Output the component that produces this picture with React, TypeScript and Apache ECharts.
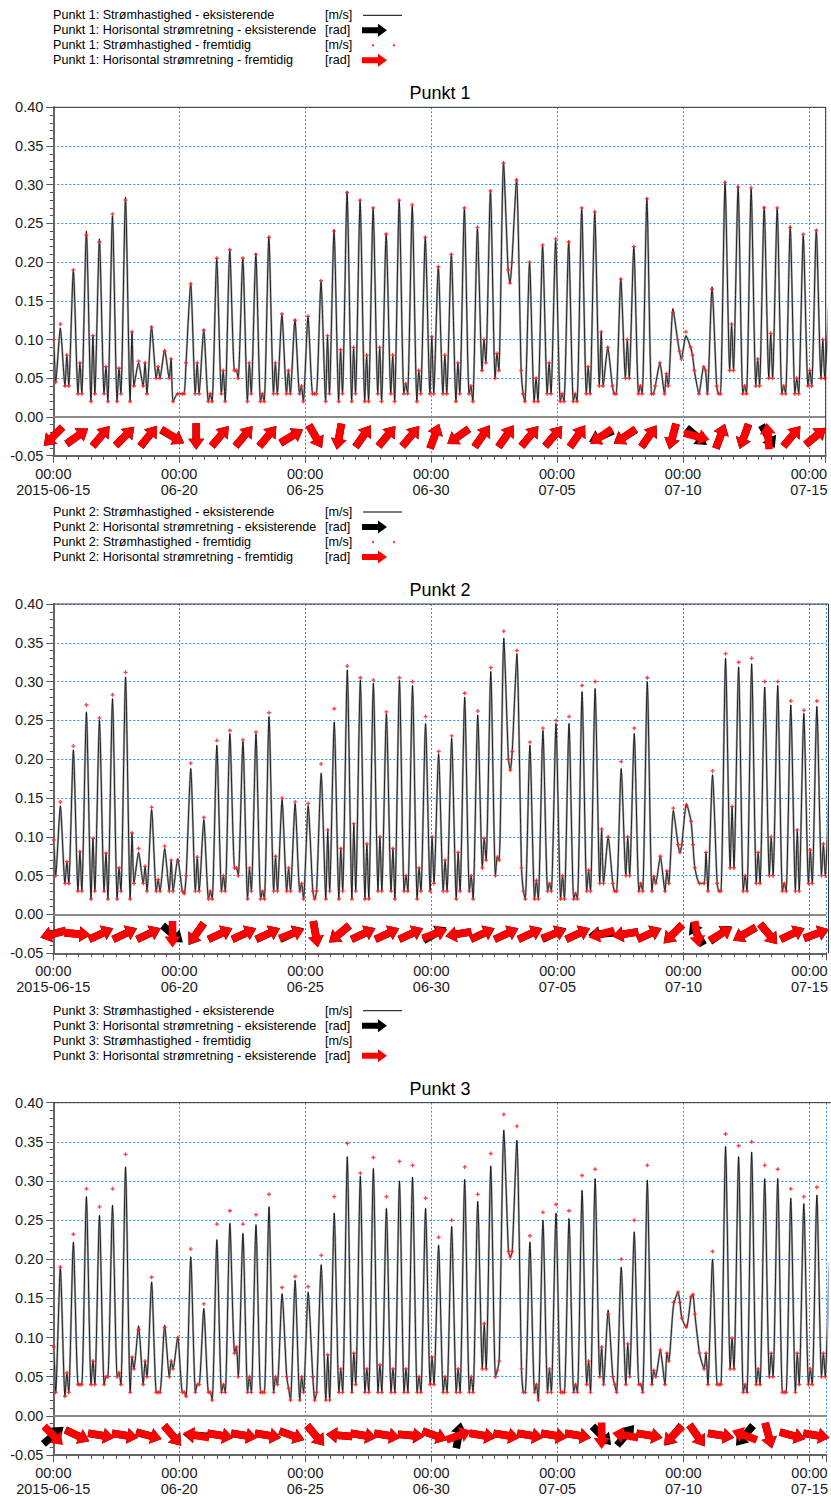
import React, { useEffect, useRef } from 'react';
import * as echarts from 'echarts';

const FONT = '"Liberation Sans", Arial, sans-serif';

// ---------- time base (hours from 2015-06-15 00:00) ----------
const START_DATE_UTC = Date.UTC(2015, 5, 15);
const X_MAX_H = 736;
const X_TICK_H = 120;
const CYCLE_H = 12.42;
const FIRST_PEAK_H = 6.7;
const SLOT_OFFSETS_H = [-6.21, -4.4, 0, 4.4]; // minor, troughA, major, troughB
const ARROW_STEP_H = 22.7;
const ARROW_LEVEL = -0.025;

const TITLES = ['Punkt 1', 'Punkt 2', 'Punkt 3'];
const LEGEND_LABELS = [
  ['Punkt 1: Strømhastighed - eksisterende', 'Punkt 1: Horisontal strømretning - eksisterende', 'Punkt 1: Strømhastighed - fremtidig', 'Punkt 1: Horisontal strømretning - fremtidig'],
  ['Punkt 2: Strømhastighed - eksisterende', 'Punkt 2: Horisontal strømretning - eksisterende', 'Punkt 2: Strømhastighed - fremtidig', 'Punkt 2: Horisontal strømretning - fremtidig'],
  ['Punkt 3: Strømhastighed - eksisterende', 'Punkt 3: Horisontal strømretning - eksisterende', 'Punkt 3: Strømhastighed - fremtidig', 'Punkt 3: Horisontal strømretning - eksisterende'],
];
const LEGEND_UNITS = ['[m/s]', '[rad]', '[m/s]', '[rad]'];

// ---------- Punkt 1 ----------
const P1_MAJOR = [0.115,0.19,0.24,0.23,0.26,0.284,0.07,0.117,0.087,0.03, 0.173,0.113,0.205,0.216,0.205,0.211,0.233,0.132,0.126,0.13, 0.175,0.242,0.291,0.28,0.27,0.237,0.28,0.273,0.233,0.194, 0.211,0.27,0.244,0.293,0.33,0.308,0.2,0.222,0.229,0.227, 0.27,0.265,0.09,0.179,0.22,0.283,0.07,0.14,0.105,0.03, 0.168,0.304,0.298,0.295,0.272,0.27,0.246,0.235,0.242,0.15];
const P1_MINOR = [0.10,0.08,0.07,0.105,0.065,0.063,0.11,0.07,0.065,0.075, 0.03,0.07,0.03,0.06,0.06,0.07,0.03,0.07,0.06,0.04, 0.03,0.105,0.087,0.09,0.08,0.09,0.08,0.043,0.06,0.104, 0.08,0.07,0.04,0.10,0.082,0.173,0.03,0.05,0.07,0.03, 0.03,0.065,0.11,0.03,0.10,0.04,0.03,0.056,0.085,0.08, 0.06,0.03,0.12,0.04,0.075,0.108,0.04,0.05,0.06,0.10];
const P1_TROUGH_A = [0.045,0.04,0.03,0.03,0.02,0.03,0.04,0.03,0.05,0.02, 0.07,0.03,0.02,0.02,0.05,0.03,0.02,0.03,0.03,0.02, 0.03,0.03,0.03,0.03,0.02,0.02,0.02,0.03,0.03,0.03, 0.03,0.03,0.02,0.07,0.06,0.20,0.02,0.02,0.03,0.02, 0.02,0.03,0.04,0.03,0.05,0.03,0.04,0.04,0.075,0.06, 0.03,0.03,0.06,0.03,0.04,0.05,0.03,0.03,0.04,0.05];
const P1_TROUGH_B = [0.04,0.03,0.02,0.03,0.02,0.02,0.04,0.05,0.05,0.03, 0.03,0.02,0.03,0.06,0.02,0.02,0.03,0.03,0.03,0.03, 0.02,0.02,0.02,0.02,0.03,0.03,0.03,0.02,0.03,0.03, 0.02,0.03,0.06,0.05,0.19,0.06,0.02,0.03,0.02,0.02, 0.03,0.04,0.04,0.05,0.03,0.03,0.03,0.10,0.09,0.065, 0.04,0.06,0.03,0.04,0.05,0.03,0.03,0.04,0.05,0.04];
const P1_RED_MAJOR = [0.12,0.19,0.235,0.226,0.262,0.28,0.072,0.116,0.085,0.03, 0.172,0.112,0.205,0.216,0.205,0.21,0.232,0.133,0.125,0.13, 0.176,0.24,0.29,0.28,0.27,0.236,0.28,0.274,0.232,0.194, 0.21,0.27,0.245,0.292,0.328,0.306,0.2,0.222,0.23,0.226, 0.27,0.265,0.09,0.178,0.22,0.282,0.07,0.135,0.11,0.03, 0.165,0.303,0.297,0.296,0.27,0.27,0.245,0.236,0.241,0.15];
const P1_DIR_BLACK = [225,35,50,45,52,-30,-90,50,50,50,32,-60,-100,55,50,50,70,215,55,55,50,50,55,205,212,55,-105,-40,70,-110,-60,50,40];
const P1_DIR_RED = [225,35,50,45,50,-33,-90,50,50,50,30,-60,-100,55,50,50,70,215,55,55,50,50,55,215,215,55,-105,-15,70,-110,95,50,40];

// ---------- Punkt 2 ----------
const P2_MAJOR = [0.14,0.212,0.261,0.25,0.278,0.306,0.08,0.135,0.085,0.072, 0.188,0.122,0.218,0.233,0.223,0.233,0.255,0.148,0.143,0.14, 0.182,0.248,0.315,0.302,0.298,0.259,0.302,0.295,0.246,0.207, 0.227,0.28,0.257,0.313,0.356,0.336,0.218,0.237,0.246,0.246, 0.287,0.291,0.10,0.188,0.233,0.30,0.075,0.134,0.143,0.04, 0.18,0.33,0.319,0.323,0.293,0.295,0.27,0.259,0.268,0.17];
const P2_MINOR = [0.096,0.068,0.081,0.098,0.079,0.06,0.105,0.062,0.045,0.07, 0.027,0.074,0.03,0.05,0.06,0.06,0.03,0.075,0.06,0.04, 0.02,0.109,0.085,0.117,0.091,0.10,0.085,0.05,0.06,0.10, 0.07,0.08,0.05,0.098,0.074,0.186,0.03,0.044,0.04,0.05, 0.027,0.057,0.11,0.03,0.10,0.04,0.049,0.056,0.08,0.09, 0.08,0.03,0.139,0.05,0.08,0.10,0.04,0.109,0.083,0.091];
const P2_TROUGH_A = [0.05,0.04,0.03,0.03,0.02,0.03,0.04,0.03,0.03,0.03, 0.05,0.03,0.02,0.03,0.05,0.03,0.02,0.03,0.03,0.02, 0.03,0.03,0.03,0.03,0.02,0.03,0.02,0.03,0.03,0.04, 0.03,0.03,0.02,0.07,0.07,0.21,0.02,0.02,0.03,0.02, 0.02,0.03,0.04,0.03,0.05,0.03,0.04,0.04,0.09,0.06, 0.03,0.03,0.06,0.03,0.04,0.05,0.03,0.03,0.04,0.05];
const P2_TROUGH_B = [0.04,0.03,0.02,0.03,0.02,0.02,0.04,0.03,0.03,0.03, 0.03,0.02,0.03,0.06,0.02,0.02,0.03,0.03,0.03,0.03, 0.02,0.02,0.02,0.02,0.03,0.03,0.03,0.02,0.03,0.03, 0.02,0.03,0.06,0.05,0.20,0.06,0.02,0.03,0.02,0.02, 0.03,0.04,0.04,0.05,0.03,0.03,0.03,0.09,0.12,0.04, 0.04,0.06,0.03,0.04,0.05,0.03,0.03,0.04,0.05,0.04];
const P2_RED_MAJOR = [0.145,0.217,0.27,0.253,0.283,0.312,0.085,0.138,0.088,0.07, 0.195,0.125,0.224,0.237,0.225,0.235,0.26,0.15,0.145,0.143, 0.194,0.265,0.32,0.305,0.302,0.261,0.305,0.30,0.255,0.21, 0.23,0.285,0.262,0.318,0.365,0.34,0.222,0.24,0.25,0.255, 0.295,0.30,0.10,0.197,0.24,0.305,0.075,0.137,0.14,0.04, 0.185,0.336,0.325,0.33,0.30,0.30,0.275,0.263,0.275,0.17];
const P2_DIR_BLACK = [195,-5,25,25,25,-40,235,25,25,25,25,-80,220,25,25,25,30,190,25,25,25,25,25,185,190,25,225,120,35,210,-50,25,20];
const P2_DIR_RED = [195,-5,25,25,25,-90,235,25,25,25,20,-80,220,25,25,25,20,190,25,25,25,20,25,195,190,25,225,-80,30,210,-50,25,20];

// ---------- Punkt 3 ----------
const P3_MAJOR = [0.19,0.222,0.28,0.256,0.269,0.318,0.115,0.171,0.116,0.101, 0.203,0.137,0.225,0.246,0.233,0.244,0.267,0.156,0.173,0.158, 0.193,0.259,0.331,0.306,0.316,0.265,0.30,0.305,0.265,0.218, 0.242,0.302,0.274,0.319,0.365,0.352,0.222,0.25,0.259,0.252, 0.288,0.303,0.135,0.19,0.235,0.301,0.084,0.14,0.112,0.08, 0.2,0.344,0.331,0.337,0.303,0.303,0.278,0.271,0.282,0.2];
const P3_MINOR = [0.088,0.055,0.04,0.07,0.05,0.055,0.075,0.07,0.03,0.07, 0.03,0.04,0.03,0.04,0.088,0.05,0.03,0.05,0.035,0.05, 0.02,0.078,0.06,0.08,0.06,0.065,0.06,0.06,0.05,0.075, 0.05,0.06,0.05,0.118,0.058,0.203,0.03,0.04,0.06,0.03, 0.04,0.07,0.088,0.04,0.092,0.04,0.058,0.08,0.145,0.155, 0.08,0.04,0.099,0.04,0.06,0.08,0.03,0.08,0.06,0.08];
const P3_TROUGH_A = [0.03,0.03,0.04,0.04,0.05,0.04,0.06,0.05,0.03,0.06, 0.025,0.04,0.02,0.03,0.05,0.03,0.03,0.04,0.02,0.03, 0.03,0.02,0.03,0.04,0.03,0.03,0.03,0.03,0.03,0.04, 0.03,0.03,0.03,0.06,0.07,0.21,0.03,0.02,0.03,0.03, 0.03,0.03,0.04,0.03,0.05,0.03,0.05,0.07,0.125,0.13, 0.04,0.04,0.06,0.03,0.04,0.05,0.03,0.04,0.04,0.05];
const P3_TROUGH_B = [0.025,0.04,0.04,0.04,0.05,0.03,0.04,0.03,0.05,0.03, 0.03,0.03,0.03,0.08,0.03,0.03,0.03,0.05,0.02,0.05, 0.02,0.03,0.03,0.03,0.03,0.03,0.03,0.03,0.04,0.03, 0.03,0.03,0.06,0.05,0.21,0.06,0.03,0.03,0.03,0.03, 0.04,0.05,0.05,0.04,0.04,0.04,0.04,0.158,0.152,0.06, 0.04,0.06,0.03,0.04,0.05,0.03,0.03,0.04,0.05,0.04];
const P3_RED_MAJOR = [0.19,0.232,0.29,0.267,0.29,0.334,0.11,0.177,0.113,0.1, 0.213,0.143,0.245,0.262,0.245,0.257,0.283,0.164,0.178,0.165, 0.205,0.28,0.348,0.31,0.33,0.28,0.325,0.32,0.278,0.228, 0.25,0.318,0.283,0.335,0.385,0.37,0.23,0.26,0.27,0.262, 0.307,0.315,0.13,0.2,0.25,0.32,0.084,0.145,0.115,0.08, 0.21,0.36,0.345,0.35,0.32,0.315,0.29,0.28,0.292,0.21];
const P3_DIR_BLACK = [40,-25,-10,-10,-15,-50,175,-10,-10,-10,-20,-50,175,-10,-10,-5,-20,80,-10,-10,-10,-10,-10,-45,50,-10,230,-55,-10,230,-75,-15,-10];
const P3_DIR_RED = [-45,-25,-10,-10,-15,-50,170,-10,-10,-10,-20,-50,175,-10,-10,-5,-20,20,-10,-10,-10,-10,-10,-90,170,-10,225,-55,-10,160,-75,-15,-10];

// ---------- layout ----------
const GRID_LEFT = 53.3;
const PANEL_LAYOUT = [
  { top: 107.3, height: 348.4, width: 772.4 },
  { top: 604, height: 349.3, width: 775.2 },
  { top: 1102.7, height: 353, width: 782 },
];

const PANEL_DATA = [
  { minor: P1_MINOR, ta: P1_TROUGH_A, major: P1_MAJOR, tb: P1_TROUGH_B, red: P1_RED_MAJOR, dirB: P1_DIR_BLACK, dirR: P1_DIR_RED },
  { minor: P2_MINOR, ta: P2_TROUGH_A, major: P2_MAJOR, tb: P2_TROUGH_B, red: P2_RED_MAJOR, dirB: P2_DIR_BLACK, dirR: P2_DIR_RED },
  { minor: P3_MINOR, ta: P3_TROUGH_A, major: P3_MAJOR, tb: P3_TROUGH_B, red: P3_RED_MAJOR, dirB: P3_DIR_BLACK, dirR: P3_DIR_RED },
];

function buildSeries(minor: number[], ta: number[], major: number[], tb: number[]) {
  const out: number[][] = [];
  for (let k = 0; k < major.length; k++) {
    const p = FIRST_PEAK_H + k * CYCLE_H;
    const vals = [minor[k], ta[k], major[k], tb[k]];
    for (let s = 0; s < 4; s++) out.push([p + SLOT_OFFSETS_H[s], vals[s]]);
  }
  return out;
}

const ARROW_SHAPE = [[-13, -3.8], [2.5, -3.8], [2.5, -8], [13.5, 0], [2.5, 8], [2.5, 3.8], [-13, 3.8]];
const PLUS = 'path://M-1,-3H1V-1H3V1H1V3H-1V1H-3V-1H-1Z';

function arrowSeries(i: number, dirs: number[], color: string, z: number) {
  return {
    type: 'custom',
    xAxisIndex: i,
    yAxisIndex: i,
    z,
    silent: true,
    clip: false,
    data: dirs.map((a, j) => [j * ARROW_STEP_H, ARROW_LEVEL, a]),
    encode: { x: 0, y: 1 },
    renderItem: (params: any, api: any) => {
      const p = api.coord([api.value(0), api.value(1)]);
      return {
        type: 'polygon',
        x: p[0],
        y: p[1],
        rotation: (api.value(2) * Math.PI) / 180,
        shape: { points: ARROW_SHAPE },
        style: { fill: color },
      };
    },
  };
}

function xLabel(v: number) {
  if (Math.abs(v % X_TICK_H) > 1e-6) return '';
  const d = new Date(START_DATE_UTC + v * 3600e3);
  const mm = String(d.getUTCMonth() + 1).padStart(2, '0');
  const dd = String(d.getUTCDate()).padStart(2, '0');
  return v === 0 ? `00:00\n${d.getUTCFullYear()}-${mm}-${dd}` : `00:00\n${mm}-${dd}`;
}

function buildOption() {
  const grid: any[] = [];
  const xAxis: any[] = [];
  const yAxis: any[] = [];
  const series: any[] = [];
  const graphic: any[] = [];
  const splitStyle = { color: '#2a8cff', type: [2, 2], width: 1 };

  PANEL_LAYOUT.forEach((L, i) => {
    grid.push({ left: GRID_LEFT, top: L.top, width: L.width, height: L.height, show: false });
    xAxis.push({
      type: 'value', gridIndex: i, min: 0, max: X_MAX_H, interval: X_TICK_H,
      axisLine: { show: true, onZero: false, lineStyle: { color: '#666', width: 2 } },
      axisTick: { show: true, length: 7, lineStyle: { color: '#555' } },
      minorTick: { show: true, splitNumber: 10, length: 4, lineStyle: { color: '#555' } },
      splitLine: { show: true, lineStyle: splitStyle },
      axisLabel: { formatter: xLabel, fontSize: 14.5, fontFamily: FONT, color: '#1a1a1a', lineHeight: 16, margin: 10, showMinLabel: true, showMaxLabel: true },
    });
    yAxis.push({
      type: 'value', gridIndex: i, min: -0.05, max: 0.4, interval: 0.05,
      axisLine: { show: true, onZero: false, lineStyle: { color: '#666', width: 2 } },
      axisTick: { show: true, length: 7, lineStyle: { color: '#555' } },
      minorTick: { show: true, splitNumber: 5, length: 3.5, lineStyle: { color: '#555' } },
      splitLine: { show: true, lineStyle: splitStyle },
      axisLabel: { formatter: (v: number) => (Math.abs(v) < 1e-9 ? 0 : v).toFixed(2), fontSize: 14.5, fontFamily: FONT, color: '#1a1a1a', margin: 10 },
    });

    const D = PANEL_DATA[i];
    const black = buildSeries(D.minor, D.ta, D.major, D.tb);
    const red = buildSeries(D.minor, D.ta, D.red, D.tb);
    series.push({
      type: 'line', xAxisIndex: i, yAxisIndex: i, data: black, showSymbol: false, smooth: 0.2, silent: true, z: 2,
      lineStyle: { color: '#ababab', width: 2.2 },
    });
    series.push({
      type: 'line', xAxisIndex: i, yAxisIndex: i, data: black, showSymbol: false, smooth: 0.2, silent: true, z: 3,
      lineStyle: { color: '#000', width: 0.8 },
      markLine: { silent: true, symbol: ['none', 'none'], label: { show: false }, lineStyle: { color: '#8a8a8a', width: 2, type: 'solid' }, data: [{ yAxis: 0 }] },
    });
    series.push({
      type: 'scatter', xAxisIndex: i, yAxisIndex: i, data: red, symbol: PLUS, symbolSize: 4, silent: true, z: 4,
      itemStyle: { color: '#ff2020', opacity: 0.85 },
    });
    series.push(arrowSeries(i, D.dirB, '#000', 5));
    series.push(arrowSeries(i, D.dirR, '#ff0000', 6));

    // frame (top and right edges of the plot box)
    const x0 = GRID_LEFT, x1 = GRID_LEFT + L.width, y0 = L.top, y1 = L.top + L.height;
    graphic.push({ type: 'polyline', z: 100, shape: { points: [[x0, y0], [x1, y0], [x1, y1]] }, style: { stroke: '#333', lineWidth: 1, fill: 'none' } });

    // legend block + title
    const rows = [L.top - 92, L.top - 77, L.top - 62, L.top - 47];
    rows.forEach((y, r) => {
      graphic.push({ type: 'text', x: 53, y, style: { text: LEGEND_LABELS[i][r], fontSize: 12.6, fontFamily: FONT, fill: '#000', verticalAlign: 'middle' } });
      graphic.push({ type: 'text', x: 325, y, style: { text: LEGEND_UNITS[r], fontSize: 12.6, fontFamily: FONT, fill: '#000', verticalAlign: 'middle' } });
    });
    graphic.push({ type: 'line', shape: { x1: 363, y1: rows[0], x2: 402, y2: rows[0] }, style: { stroke: '#000', lineWidth: 1 } });
    const legArrow = (y: number) => [[362, y - 3], [378, y - 3], [378, y - 6.5], [387, y], [378, y + 6.5], [378, y + 3], [362, y + 3]];
    graphic.push({ type: 'polygon', shape: { points: legArrow(rows[1]) }, style: { fill: '#000' } });
    graphic.push({ type: 'circle', shape: { cx: 373, cy: rows[2], r: 1.2 }, style: { fill: '#ff3030' } });
    graphic.push({ type: 'circle', shape: { cx: 394, cy: rows[2], r: 1.2 }, style: { fill: '#ff3030' } });
    graphic.push({ type: 'polygon', shape: { points: legArrow(rows[3]) }, style: { fill: '#ff0000' } });
    graphic.push({ type: 'text', x: 440, y: L.top - 14, style: { text: TITLES[i], fontSize: 18, fontFamily: FONT, fill: '#000', align: 'center', verticalAlign: 'middle' } });
  });

  return { animation: false, backgroundColor: '#fff', grid, xAxis, yAxis, series, graphic };
}

export default function App() {
  const ref = useRef<HTMLDivElement>(null);
  useEffect(() => {
    document.body.style.margin = '0';
    document.body.style.overflow = 'hidden';
    const chart = echarts.init(ref.current as HTMLDivElement, null, { renderer: 'svg' });
    chart.setOption(buildOption() as any);
    return () => chart.dispose();
  }, []);
  return <div ref={ref} style={{ width: 831, height: 1497 }} />;
}
